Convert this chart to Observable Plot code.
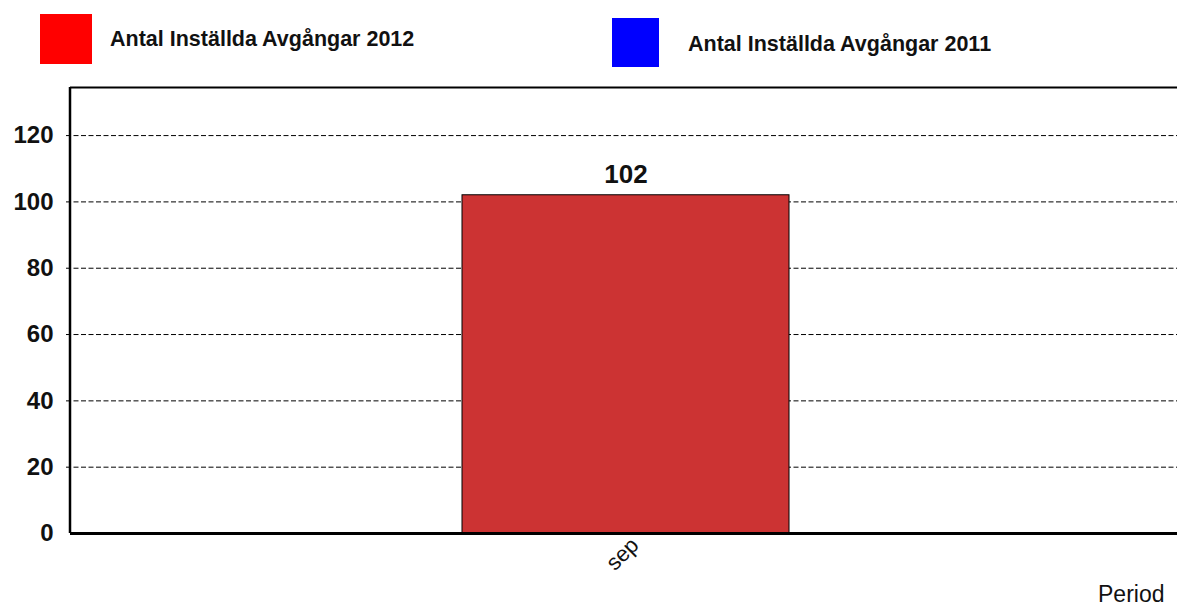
<!DOCTYPE html>
<html>
<head>
<meta charset="utf-8">
<script src="https://cdn.jsdelivr.net/npm/d3@7"></script>
<script src="https://cdn.jsdelivr.net/npm/@observablehq/plot@0.6"></script>
<style>
  html, body { margin: 0; padding: 0; background: #fff; }
  body { width: 1177px; height: 605px; position: relative; overflow: hidden; font-family: "Liberation Sans", Arial, sans-serif; }
  #legend { position: relative; height: 80px; }
  .sw { position: absolute; }
  .lt { position: absolute; font-weight: bold; font-size: 21.5px; color: #111; white-space: nowrap; transform: translateY(-50%); }
  #chart { position: absolute; left: 0; top: 80px; }
  #period { position: absolute; left: 1098px; top: 583px; font-size: 23px; line-height: 22px; color: #111; }
</style>
</head>
<body>
<div id="legend"></div>
<div id="chart"></div>
<div id="period"></div>
<script>
const periods = ["sep"];
const values2012 = [102];
const series = ["Antal Inställda Avgångar 2012", "Antal Inställda Avgångar 2011"];
const seriesColors = ["#ff0000", "#0000ff"];
const yTicks = [0, 20, 40, 60, 80, 100, 120];
const yMax = 134.5;
const xLabel = "Period";

const data = periods.map((p, i) => ({period: p, value: values2012[i]}));

// legend
const legend = document.getElementById("legend");
const legendPos = [
  {sx: 40, sy: 14, sw: 52, sh: 50, tx: 110, ty: 39},
  {sx: 612, sy: 18, sw: 47, sh: 49, tx: 688, ty: 44}
];
series.forEach((s, i) => {
  const p = legendPos[i];
  const sw = document.createElement("div");
  sw.className = "sw";
  Object.assign(sw.style, {left: p.sx + "px", top: p.sy + "px", width: p.sw + "px", height: p.sh + "px", background: seriesColors[i]});
  legend.appendChild(sw);
  const t = document.createElement("div");
  t.className = "lt";
  t.textContent = s;
  Object.assign(t.style, {left: p.tx + "px", top: p.ty + "px"});
  legend.appendChild(t);
});
document.getElementById("period").textContent = xLabel;

const chart = Plot.plot({
  width: 1177,
  height: 525,
  marginTop: 7,
  marginBottom: 72,
  marginLeft: 70,
  marginRight: 0,
  style: {fontFamily: "'Liberation Sans', Arial, sans-serif", color: "#111", background: "transparent"},
  x: {domain: periods, paddingInner: 0.5, paddingOuter: 0.5963, align: 0.5026, label: null},
  y: {domain: [0, yMax], label: null},
  marks: [
    Plot.ruleY(yTicks.filter(d => d > 0), {stroke: "#000", strokeWidth: 1, strokeDasharray: "5,2.5", insetLeft: -4}),
    Plot.barY(data, {x: "period", y: "value", fill: "#cc3333", stroke: "#000", strokeWidth: 1}),
    Plot.text(data, {x: "period", y: "value", text: d => String(d.value), dy: -21, fontSize: 26, fontWeight: "bold", fill: "#111"}),
    Plot.ruleY([yMax], {stroke: "#000", strokeWidth: 2}),
    Plot.ruleY([0], {stroke: "#000", strokeWidth: 3}),
    // left axis line: a full-height rect narrowed to the left edge of the frame
    Plot.rect([0], {y1: 0, y2: yMax, fill: "#000", insetLeft: -1.25, insetRight: 1177 - 70 - 1.25}),
    Plot.axisY({ticks: yTicks, tickSize: 0, tickPadding: 17, fontSize: 24, fontWeight: "bold", label: null}),
    Plot.axisX({tickSize: 0, tickRotate: -45, tickPadding: 8, dx: 9, fontSize: 22, label: null})
  ]
});
document.getElementById("chart").appendChild(chart);
</script>
</body>
</html>
